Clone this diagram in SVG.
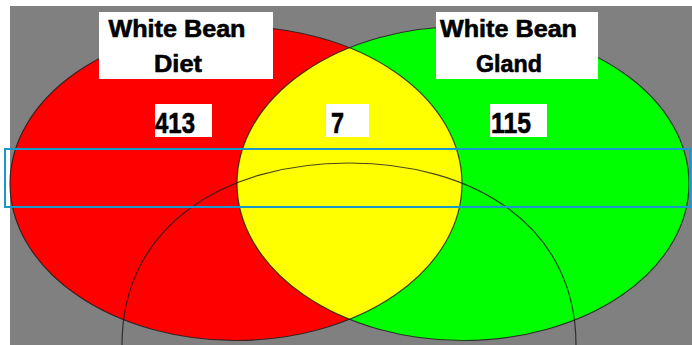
<svg xmlns="http://www.w3.org/2000/svg" width="692" height="345" viewBox="0 0 692 345">
<style>
.lbl{font-family:"Liberation Sans",Arial,sans-serif;font-weight:bold;font-size:24.5px;fill:#000;stroke:#000;stroke-width:0.6;}
.num{font-family:"Liberation Sans",Arial,sans-serif;font-weight:bold;font-size:29px;fill:#000;stroke:#000;stroke-width:0.6;}
.box{fill:#fff;}
.edge{fill:none;stroke:#1a1a1a;stroke-opacity:0.8;stroke-width:1.2;}
</style>
<defs>
<clipPath id="clipGreen"><ellipse cx="463" cy="183.5" rx="226" ry="157"/></clipPath>
</defs>
<rect x="0" y="0" width="692" height="345" fill="#fff"/>
<rect x="10" y="6" width="682" height="339" fill="#808080"/>
<g id="set-diet">
<ellipse cx="236" cy="183.5" rx="226" ry="157" fill="#ff0000"/>
</g>
<g id="set-gland">
<ellipse cx="463" cy="183.5" rx="226" ry="157" fill="#00ff00"/>
</g>
<g id="overlap">
<ellipse cx="236" cy="183.5" rx="226" ry="157" fill="#ffff00" clip-path="url(#clipGreen)"/>
</g>
<g id="outlines">
<ellipse class="edge" cx="236" cy="183.5" rx="226" ry="157"/>
<ellipse class="edge" cx="463" cy="183.5" rx="226" ry="157"/>
</g>
<g id="set-third">
<path class="edge" d="M122,345 C122,225 225,163 349,163 C473,163 576,225 576,345"/>
</g>
<g id="label-diet">
<rect class="box" x="99" y="12" width="174" height="67"/>
<text class="lbl" x="177" y="37" text-anchor="middle" textLength="137" lengthAdjust="spacingAndGlyphs">White Bean</text>
<text class="lbl" x="178" y="72" text-anchor="middle" textLength="48" lengthAdjust="spacingAndGlyphs">Diet</text>
</g>
<g id="label-gland">
<rect class="box" x="436" y="12" width="162" height="67"/>
<text class="lbl" x="508.5" y="37" text-anchor="middle" textLength="137" lengthAdjust="spacingAndGlyphs">White Bean</text>
<text class="lbl" x="509" y="72" text-anchor="middle" textLength="66" lengthAdjust="spacingAndGlyphs">Gland</text>
</g>
<g id="count-diet">
<rect class="box" x="155" y="104" width="57" height="33"/>
<text class="num" x="155" y="132.7" textLength="40" lengthAdjust="spacingAndGlyphs">413</text>
</g>
<g id="count-both">
<rect class="box" x="326" y="104" width="43" height="33"/>
<text class="num" x="331" y="132.7" textLength="13" lengthAdjust="spacingAndGlyphs">7</text>
</g>
<g id="count-gland">
<rect class="box" x="490" y="104" width="57" height="33"/>
<text class="num" x="491" y="132.7" textLength="40" lengthAdjust="spacingAndGlyphs">115</text>
</g>
<g id="connectors"/>
<g id="highlight">
<rect x="5" y="149" width="685" height="58" fill="none" stroke="#1b98c9" stroke-width="2"/>
</g>
</svg>
